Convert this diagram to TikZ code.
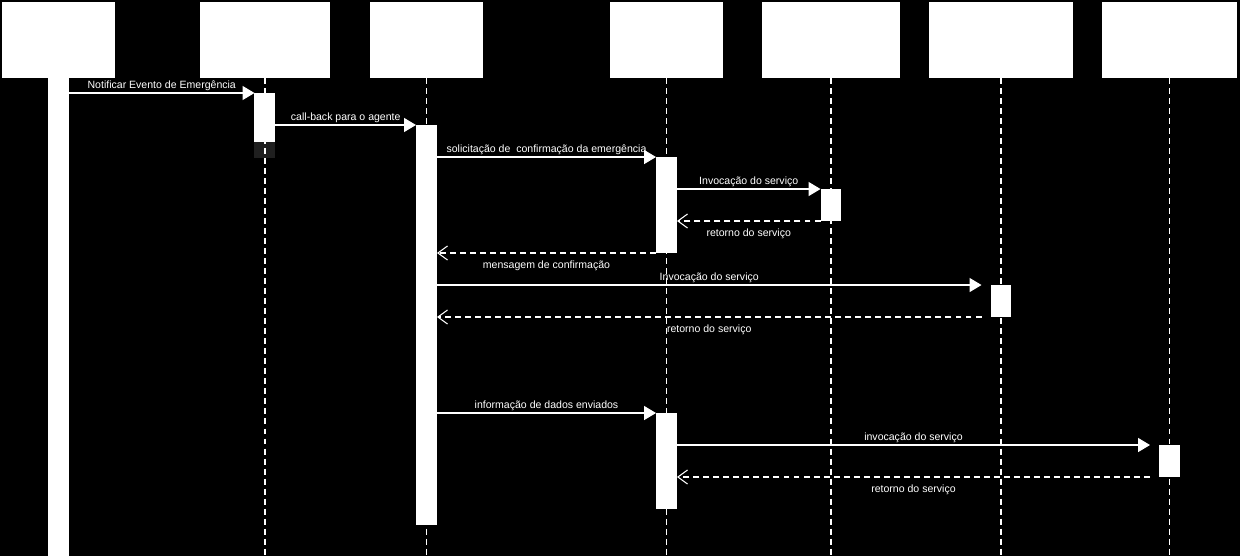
\documentclass[tikz,border=0pt]{standalone}
\usepackage{fontspec}
\setmainfont{Liberation Sans}
\usetikzlibrary{arrows.meta}

\begin{document}
\begin{tikzpicture}[x=0.02cm,y=-0.02cm,
  head/.style={fill=white,inner sep=0pt,outer sep=0pt,anchor=north west,minimum height=1.52cm},
  bar/.style={fill=white,inner sep=0pt,outer sep=0pt,anchor=north,minimum width=0.42cm},
  lifeline/.style={draw=white,line width=0.6pt,dash pattern=on 3.4pt off 2.3pt},
  msg/.style={draw=white,line width=0.6pt,-{Triangle[length=6.8pt,width=8pt]}},
  ret/.style={draw=white,line width=0.6pt,dash pattern=on 3.4pt off 2.3pt,
    -{Straight Barb[length=5.5pt,width=8pt,line width=0.6pt]}},
  lblup/.style={text=white,font=\fontsize{6}{7}\selectfont,anchor=base,yshift=2.5pt,inner sep=0pt},
  lbldown/.style={text=white,font=\fontsize{6}{7}\selectfont,anchor=base,yshift=-9pt,inner sep=0pt}]
\fill[black] (0,0) rectangle (1240,556);
\useasboundingbox (0,0) rectangle (1240,556);
\coordinate (bot) at (0,556);
% lifeline heads
\node[head,minimum width=2.26cm] (h1) at (2,2) {};
\node[head,minimum width=2.6cm] (h2) at (200,2) {};
\node[head,minimum width=2.26cm] (h3) at (370,2) {};
\node[head,minimum width=2.26cm] (h4) at (610,2) {};
\node[head,minimum width=2.76cm] (h5) at (762,2) {};
\node[head,minimum width=2.88cm] (h6) at (929,2) {};
\node[head,minimum width=2.7cm] (h7) at (1102,2) {};
% shadow below the first activation
\node[bar,fill=black!88,minimum height=0.32cm] (g2) at (h2.south |- 0,142) {};
% lifelines
\foreach \h in {h2,h3,h4,h5,h6,h7}
  \draw[lifeline] (\h.south) -- (\h.south |- bot);
% activations
\node[bar,minimum height=9.56cm] (a1) at (h1.south) {};
\node[bar,minimum height=0.98cm] (a2) at (h2.south |- 0,93) {};
\node[bar,minimum height=8cm] (a3) at (h3.south |- 0,125) {};
\node[bar,minimum height=1.92cm] (a4) at (h4.south |- 0,157) {};
\node[bar,minimum height=0.64cm] (a5) at (h5.south |- 0,189) {};
\node[bar,minimum height=0.64cm] (a6) at (h6.south |- 0,285) {};
\node[bar,minimum height=1.92cm] (a7) at (h4.south |- 0,413) {};
\node[bar,minimum height=0.64cm] (a8) at (h7.south |- 0,445) {};
% messages
\draw[msg] (a1.east |- a2.north) -- (a2.north west) node[midway,lblup] {Notificar Evento de Emergência};
\draw[msg] (a2.east |- a3.north) -- (a3.north west) node[midway,lblup] {call-back para o agente};
\draw[msg] (a3.east |- a4.north) -- (a4.north west) node[midway,lblup] {solicitação de~ confirmação da emergência};
\draw[msg] (a4.east |- a5.north) -- (a5.north west) node[midway,lblup] {Invocação do serviço};
\draw[ret] (a5.south west) -- (a4.east |- a5.south) node[midway,lbldown] {retorno do serviço};
\draw[ret] (a4.south west) -- (a3.east |- a4.south) node[midway,lbldown] {mensagem de confirmação};
\draw[msg] (a3.east |- a6.north) -- ([xshift=-0.18cm]a6.north west) node[midway,lblup] {Invocação do serviço};
\draw[ret] ([xshift=-0.18cm]a6.south west) -- (a3.east |- a6.south) node[midway,lbldown] {retorno do serviço};
\draw[msg] (a3.east |- a7.north) -- (a7.north west) node[midway,lblup] {informação de dados enviados};
\draw[msg] (a7.east |- a8.north) -- ([xshift=-0.18cm]a8.north west) node[midway,lblup] {invocação do serviço};
\draw[ret] ([xshift=-0.18cm]a8.south west) -- (a7.east |- a8.south) node[midway,lbldown] {retorno do serviço};
\end{tikzpicture}
\end{document}
